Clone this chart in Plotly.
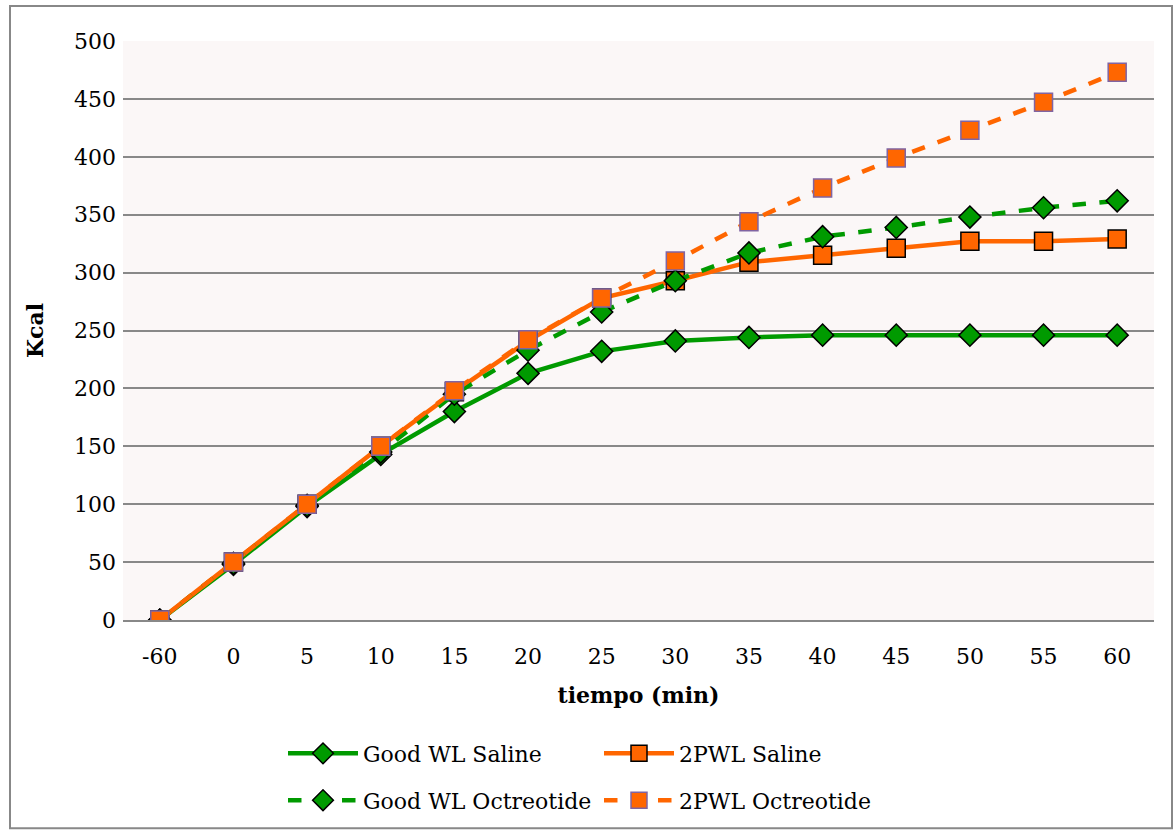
import plotly.graph_objects as go

categories = ["-60", "0", "5", "10", "15", "20", "25", "30", "35", "40", "45", "50", "55", "60"]
good_saline = [0, 48, 98, 143, 180, 213, 232, 241, 244, 246, 246, 246, 246, 246]
pwl_saline = [0, 50, 100, 150, 197, 241, 278, 293, 309, 315, 321, 327, 327, 329]
good_oct = [0, 49, 99, 145, 195, 233, 266, 293, 317, 331, 339, 348, 356, 362]
pwl_oct = [0, 50, 100, 150, 198, 242, 278, 310, 344, 373, 399, 423, 447, 473]

GREEN = "#009A00"
ORANGE = "#FF6600"
FONT = "DejaVu Serif"
FS = 22

fig = go.Figure()
fig.add_trace(go.Scatter(x=categories, y=good_saline, name="Good WL Saline", mode="lines+markers",
                         line=dict(color=GREEN, width=4.5),
                         marker=dict(symbol="diamond", size=17, color=GREEN, line=dict(color="black", width=1.5)),
                         legend="legend"))
fig.add_trace(go.Scatter(x=categories, y=pwl_saline, name="2PWL Saline", mode="lines+markers",
                         line=dict(color=ORANGE, width=4.5),
                         marker=dict(symbol="square", size=18, color=ORANGE, line=dict(color="black", width=1.5)),
                         legend="legend"))
fig.add_trace(go.Scatter(x=categories, y=good_oct, name="Good WL Octreotide", mode="lines+markers",
                         line=dict(color=GREEN, width=4.5, dash="dash"),
                         marker=dict(symbol="diamond", size=17, color=GREEN, line=dict(color="black", width=1.5)),
                         legend="legend2"))
fig.add_trace(go.Scatter(x=categories, y=pwl_oct, name="2PWL Octreotide", mode="lines+markers",
                         line=dict(color=ORANGE, width=4.5, dash="dash"),
                         marker=dict(symbol="square", size=18, color=ORANGE, line=dict(color="#8064A2", width=1.5)),
                         legend="legend2"))

L, R, T, B = 123, 20, 41, 211
W, H = 1174, 833
pw, ph = W - L - R, H - T - B

def px(x):
    return (x - L) / pw

def py(y):
    return (H - B - y) / ph

legend_common = dict(orientation="h", xanchor="left", yanchor="middle", entrywidth=231,
                     font=dict(family=FONT, size=FS, color="black"), bgcolor="rgba(0,0,0,0)",
                     itemwidth=70, tracegroupgap=0)

fig.update_layout(
    width=W, height=H,
    margin=dict(l=L, r=R, t=T, b=B),
    paper_bgcolor="white",
    plot_bgcolor="#FBF7F7",
    font=dict(family=FONT, size=FS, color="black"),
    xaxis=dict(type="category", range=[-0.5, 13.5], showgrid=False, showline=True,
               linecolor="#888888", linewidth=2, ticks="", ticklabelstandoff=16, automargin=False,
               tickfont=dict(family=FONT, size=FS),
               title=dict(text="<b>tiempo (min)</b>", font=dict(family=FONT, size=FS), standoff=19)),
    yaxis=dict(range=[0, 500], dtick=50, showgrid=True, gridcolor="#888888", gridwidth=2,
               zeroline=False, showline=False, ticks="", ticklabelstandoff=6, automargin=False,
               tickfont=dict(family=FONT, size=FS),
               title=dict(text="<b>Kcal</b>", font=dict(family=FONT, size=FS), standoff=24)),
    legend=dict(x=px(283), y=py(756), **legend_common),
    legend2=dict(x=px(283), y=py(803), **legend_common),
    showlegend=True,
)

fig.add_shape(type="rect", xref="paper", yref="paper",
              x0=px(10), x1=px(1172), y0=py(831), y1=py(6),
              line=dict(color="#888888", width=2), fillcolor="rgba(0,0,0,0)", layer="below")

fig.write_html("out.html")
